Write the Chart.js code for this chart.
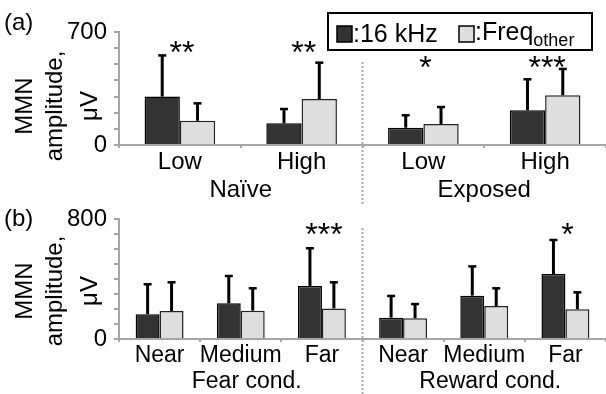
<!DOCTYPE html>
<html>
<head>
<meta charset="utf-8">
<script src="https://cdn.jsdelivr.net/npm/chart.js@4.4.1/dist/chart.umd.min.js"></script>
<style>
  body { margin: 0; background: #fff; }
  #wrap { position: relative; width: 606px; height: 394px; }
  canvas { position: absolute; left: 0; top: 0; }
</style>
</head>
<body>
<div id="wrap">
  <canvas id="chartA" width="606" height="394"></canvas>
  <canvas id="chartB" width="606" height="394"></canvas>
</div>
<script>
// panel (a)
const catsA = ['Low', 'High', 'Low', 'High'];
const groupsA = ['Naïve', 'Exposed'];
const khzA = [300, 134, 107, 215];
const khzErrA = [255, 89, 77, 192];
const otherA = [150, 285, 130, 308];
const otherErrA = [108, 225, 105, 163];
const starsA = ['**', '**', '*', '***'];

// panel (b)
const catsB = ['Near', 'Medium', 'Far', 'Near', 'Medium', 'Far'];
const groupsB = ['Fear cond.', 'Reward cond.'];
const khzB = [165, 238, 353, 142, 289, 433];
const khzErrB = [200, 182, 252, 145, 195, 227];
const otherB = [187, 189, 204, 138, 220, 198];
const otherErrB = [191, 149, 174, 95, 118, 113];
const starsB = ['', '', '***', '', '', '*'];

const seriesNames = ['16 kHz', 'Freq', 'other'];

const FONT = "'Liberation Sans', Arial, sans-serif";
const DARK = '#333333', LIGHT = '#dedede', AXIS = '#a6a6a6';

const decor = {
  id: 'decor',
  afterDatasetsDraw(chart, args, o) {
    const ctx = chart.ctx, y = chart.scales.y;
    ctx.save();
    ctx.strokeStyle = '#000';
    chart.data.datasets.forEach((ds, di) => {
      chart.getDatasetMeta(di).data.forEach((bar, i) => {
        const base = y.getPixelForValue(ds.data[i]);
        const top = y.getPixelForValue(ds.data[i] + ds.errors[i]);
        ctx.lineWidth = 3;
        ctx.beginPath(); ctx.moveTo(bar.x, base); ctx.lineTo(bar.x, top); ctx.stroke();
        ctx.lineWidth = 2.5;
        ctx.beginPath(); ctx.moveTo(bar.x - 4, top); ctx.lineTo(bar.x + 4, top); ctx.stroke();
      });
    });
    ctx.restore();
  },
  afterDraw(chart, args, o) {
    const ctx = chart.ctx, x = chart.scales.x, y = chart.scales.y;
    ctx.save();
    ctx.fillStyle = '#000';

    // significance stars
    ctx.font = '32px ' + FONT;
    ctx.textAlign = 'center';
    ctx.textBaseline = 'middle';
    o.stars.forEach((s, i) => {
      if (!s) return;
      ctx.fillText(s, x.getPixelForValue(i) + 2, y.getPixelForValue(o.starLevels[i]) + 7);
    });

    // group labels
    ctx.font = o.groupFont + 'px ' + FONT;
    const n = o.groupSize;
    o.groups.forEach((g, gi) => {
      const cx = (x.getPixelForValue(gi * n) + x.getPixelForValue(gi * n + n - 1)) / 2;
      ctx.fillText(g, cx + o.groupShift, o.groupY);
    });

    // separator
    const sx = (x.getPixelForValue(n - 1) + x.getPixelForValue(n)) / 2;
    ctx.strokeStyle = '#aaaaaa';
    ctx.lineWidth = 2;
    ctx.setLineDash([2, 2]);
    ctx.beginPath(); ctx.moveTo(sx, o.sepTop); ctx.lineTo(sx, o.sepBottom); ctx.stroke();
    ctx.setLineDash([]);

    // panel label
    ctx.font = '24px ' + FONT;
    ctx.textAlign = 'left';
    ctx.textBaseline = 'alphabetic';
    ctx.fillText(o.panel, 4, o.panelY);

    // y title
    ctx.save();
    ctx.translate(0, o.titleY);
    ctx.rotate(-Math.PI / 2);
    ctx.textAlign = 'center';
    ctx.fillText('MMN', 0, 32);
    ctx.fillText('amplitude,', 0, 62);
    ctx.fillText('μV', 0, 97);
    ctx.restore();

    // legend
    if (o.legend) {
      ctx.lineWidth = 2;
      ctx.strokeStyle = '#000';
      ctx.strokeRect(328, 13, 264, 37);
      ctx.lineWidth = 1.5;
      ctx.fillStyle = DARK;
      ctx.fillRect(337, 26, 15, 16); ctx.strokeRect(337, 26, 15, 16);
      ctx.fillStyle = LIGHT;
      ctx.fillRect(459, 26, 15, 16); ctx.strokeRect(459, 26, 15, 16);
      ctx.fillStyle = '#000';
      ctx.font = '25px ' + FONT;
      ctx.fillText(':' + seriesNames[0], 353, 42);
      ctx.fillText(':' + seriesNames[1], 475, 40);
      const w = ctx.measureText(':' + seriesNames[1]).width;
      ctx.font = '18px ' + FONT;
      ctx.fillText(seriesNames[2], 475 + w, 46);
    }
    ctx.restore();
  }
};

function makeChart(id, cats, khz, khzErr, other, otherErr, yMax, pad, tickFont, catPct, deco) {
  return new Chart(document.getElementById(id), {
    type: 'bar',
    data: {
      labels: cats,
      datasets: [
        { label: seriesNames[0], data: khz, errors: khzErr, backgroundColor: DARK,
          borderColor: '#000', borderWidth: 1.5 },
        { label: seriesNames[1], data: other, errors: otherErr, backgroundColor: LIGHT,
          borderColor: '#222', borderWidth: 1.5 }
      ]
    },
    options: {
      responsive: false,
      animation: false,
      layout: { padding: pad },
      datasets: { bar: { categoryPercentage: catPct, barPercentage: 1.0 } },
      plugins: {
        legend: { display: false },
        tooltip: { enabled: false },
        decor: deco
      },
      scales: {
        x: {
          afterFit: s => { s.height = 30; },
          grid: { offset: true, drawOnChartArea: false, drawTicks: true, tickLength: 3, color: AXIS, lineWidth: 2 },
          border: { display: true, color: AXIS, width: 2 },
          ticks: { color: '#000', font: { family: FONT, size: tickFont }, padding: 0,
                   maxRotation: 0, autoSkip: false }
        },
        y: {
          min: 0, max: yMax,
          afterFit: s => { s.width = 119; },
          grid: { drawOnChartArea: false, drawTicks: true, tickLength: 5, color: AXIS, lineWidth: 2 },
          border: { display: true, color: AXIS, width: 2 },
          ticks: { stepSize: 100, autoSkip: false, color: '#000', padding: 7,
                   font: { family: FONT, size: 24 },
                   callback: v => (v === 0 || v === yMax) ? String(v) : '' }
        }
      }
    },
    plugins: [decor]
  });
}

makeChart('chartA', catsA, khzA, khzErrA, otherA, otherErrA, 700,
  { top: 32, bottom: 219, left: 0, right: 0 }, 24, 0.58,
  { stars: starsA, starLevels: [607, 607, 514, 514], groups: groupsA, groupSize: 2,
    groupFont: 24, groupY: 190, groupShift: 0, sepTop: 62, sepBottom: 204,
    panel: '(a)', panelY: 30, titleY: 106, legend: true });

makeChart('chartB', catsB, khzB, khzErrB, otherB, otherErrB, 800,
  { top: 219, bottom: 25, left: 0, right: 0 }, 23, 0.59,
  { stars: starsB, starLevels: [735, 735, 735, 735, 735, 735], groups: groupsB, groupSize: 3,
    groupFont: 23, groupY: 382, groupShift: 6, sepTop: 228, sepBottom: 394,
    panel: '(b)', panelY: 226, titleY: 291, legend: false });
</script>
</body>
</html>
